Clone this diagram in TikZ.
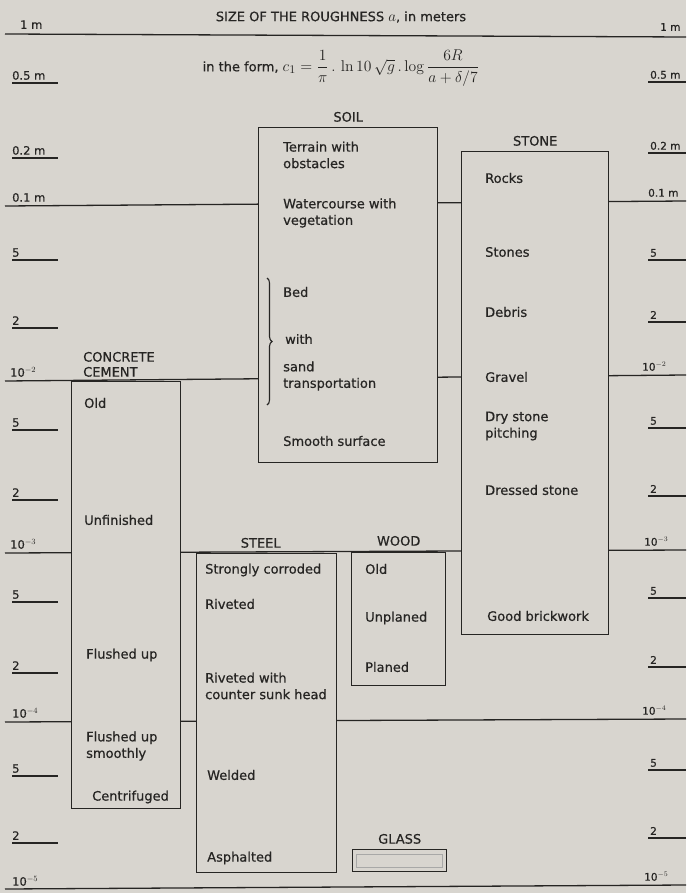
\documentclass[tikz,border=0pt]{standalone}
\usepackage{amsmath}
\usepackage{graphicx}
\usepackage[no-math]{fontspec}
\setmainfont[FakeBold=0.6]{DejaVu Sans}
\usetikzlibrary{positioning, decorations.pathreplacing}
\definecolor{cPaper}{HTML}{D8D5CF}
\definecolor{cInk}{HTML}{262523}
\tikzset{
  matbox/.style={
    draw=cInk, fill=cPaper, line width=1.4pt,
    inner sep=0pt, anchor=north west,
  },
  mattitle/.style={
    font=\fontsize{13}{15}\selectfont, text=cInk,
    inner sep=0pt, align=left,
  },
  item/.style={
    anchor=west, align=left, inner sep=0pt,
    font=\fontsize{13}{16.5}\selectfont, text=cInk,
  },
  headtxt/.style={font=\fontsize{13}{15}\selectfont, text=cInk, inner sep=0pt},
  scaleln/.style={draw=cInk, line width=1.3pt},
  tickln/.style={draw=cInk, line width=1.1pt},
  ticklbl/.style={font=\fontsize{11.5}{13}\selectfont, text=cInk, inner sep=0pt},
  ticklblr/.style={font=\fontsize{10.5}{12}\selectfont, text=cInk, inner sep=0pt},
}
\begin{document}
\begin{tikzpicture}[x=1pt, y=-1pt]

  \fill[cPaper] (0,0) rectangle (686,893);
  \useasboundingbox (0,0) rectangle (686,893);

  % Decade lines of the scale
  \foreach \yl/\yr in {34/37, 206/201, 381/375, 553/550, 722/719, 889/885}
    \draw[scaleln] (5,\yl) -- (686,\yr);

  % Heading and formula
  \node[headtxt] (title) at (341,17) {SIZE OF THE ROUGHNESS \scalebox{1.25}{$a$}, in meters};
  \node[headtxt] (formula) at (341,68)
    {in the form, \scalebox{1.3}{$\displaystyle c_1=\frac{1}{\pi}\,.\,\ln 10\,\sqrt{g}\,.\log\frac{6R}{a+\delta/7}$}};

  % Left scale
  \foreach \y/\t in {83/0.5 m, 158/0.2 m, 260/5, 328/2, 430/5, 500/2, 602/5, 673/2, 776/5, 843/2} {
    \draw[tickln] (12,\y) -- (58,\y);
    \node[ticklbl, anchor=south west] (lt\y) at (12,\y-3) {\t};
  }
  \foreach \x/\y/\t in {20/29/1 m, 12/202/0.1 m, 10/377/10$^{-2}$, 10/549/10$^{-3}$,
                        12/718/10$^{-4}$, 12/886/10$^{-5}$}
    \node[ticklbl, anchor=south west] (ld\y) at (\x,\y) {\t};

  % Right scale
  \foreach \y/\t in {82/0.5 m, 153/0.2 m, 260/5, 322/2, 428/5, 496/2, 598/5, 667/2, 770/5, 838/2} {
    \draw[tickln] (648,\y) -- (686,\y);
    \node[ticklblr, anchor=south west] (rt\y) at (650,\y-3) {\t};
  }
  \foreach \x/\y/\t in {660/31/1 m, 648/197/0.1 m, 642/371/10$^{-2}$, 644/546/10$^{-3}$,
                        642/715/10$^{-4}$, 644/881/10$^{-5}$}
    \node[ticklblr, anchor=south west] (rd\y) at (\x,\y) {\t};

  % Material boxes
  \node[matbox, minimum width=179pt, minimum height=335pt] (soil) at (258,127) {};
  \node[matbox, minimum width=147pt, minimum height=483pt] (stone) at (461,151) {};
  \node[matbox, minimum width=109pt, minimum height=427pt] (concrete) at (71,381) {};
  \node[matbox, minimum width=140pt, minimum height=319pt] (steel) at (196,553) {};
  \node[matbox, minimum width=94pt, minimum height=133pt] (wood) at (351,552) {};
  \node[matbox, minimum width=94pt, minimum height=22pt] (glass) at (352,849) {};
  \node[draw=cInk!40, line width=0.6pt, inner sep=0pt,
    minimum width=86pt, minimum height=13pt] (glassin) at (glass.center) {};

  \node[mattitle, above=5pt of soil.north] (soilT) {SOIL};
  \node[mattitle, above=5pt of stone.north] (stoneT) {STONE};
  \node[mattitle, above=5pt of steel.north, xshift=-6pt] (steelT) {STEEL};
  \node[mattitle, above=6pt of wood.north] (woodT) {WOOD};
  \node[mattitle, above=5pt of glass.north] (glassT) {GLASS};
  \node[mattitle, anchor=south west] (concreteT) at (83,377) {CONCRETE\\CEMENT};

  % Soil
  \node[item] (soilA) at (283,155) {Terrain with\\obstacles};
  \node[item] (soilB) at (283,213) {Watercourse with\\vegetation};
  \node[item] (soilC) at (283,292) {Bed};
  \node[item] (soilD) at (285,339) {with};
  \node[item] (soilE) at (283,376) {sand\\transportation};
  \node[item] (soilF) at (283,441) {Smooth surface};
  \draw[cInk, line width=1.1pt, decorate, decoration={brace, amplitude=5pt}]
    (267,278) -- (267,405);

  % Stone
  \node[item] (stoneA) at (485,178) {Rocks};
  \node[item] (stoneB) at (485,252) {Stones};
  \node[item] (stoneC) at (485,312) {Debris};
  \node[item] (stoneD) at (485,377) {Gravel};
  \node[item] (stoneE) at (485,426) {Dry stone\\pitching};
  \node[item] (stoneF) at (485,490) {Dressed stone};
  \node[item] (stoneG) at (487,616) {Good brickwork};

  % Concrete
  \node[item] (concA) at (84,403) {Old};
  \node[item] (concB) at (84,520) {Unfinished};
  \node[item] (concC) at (86,655) {Flushed up};
  \node[item] (concD) at (86,746) {Flushed up\\smoothly};
  \node[item] (concE) at (92,797) {Centrifuged};

  % Steel
  \node[item] (steelA) at (205,570) {Strongly corroded};
  \node[item] (steelB) at (205,604) {Riveted};
  \node[item] (steelC) at (205,686) {Riveted with\\counter sunk head};
  \node[item] (steelD) at (207,775) {Welded};
  \node[item] (steelE) at (207,858) {Asphalted};

  % Wood
  \node[item] (woodA) at (365,569) {Old};
  \node[item] (woodB) at (365,618) {Unplaned};
  \node[item] (woodC) at (365,667) {Planed};

\end{tikzpicture}
\end{document}
